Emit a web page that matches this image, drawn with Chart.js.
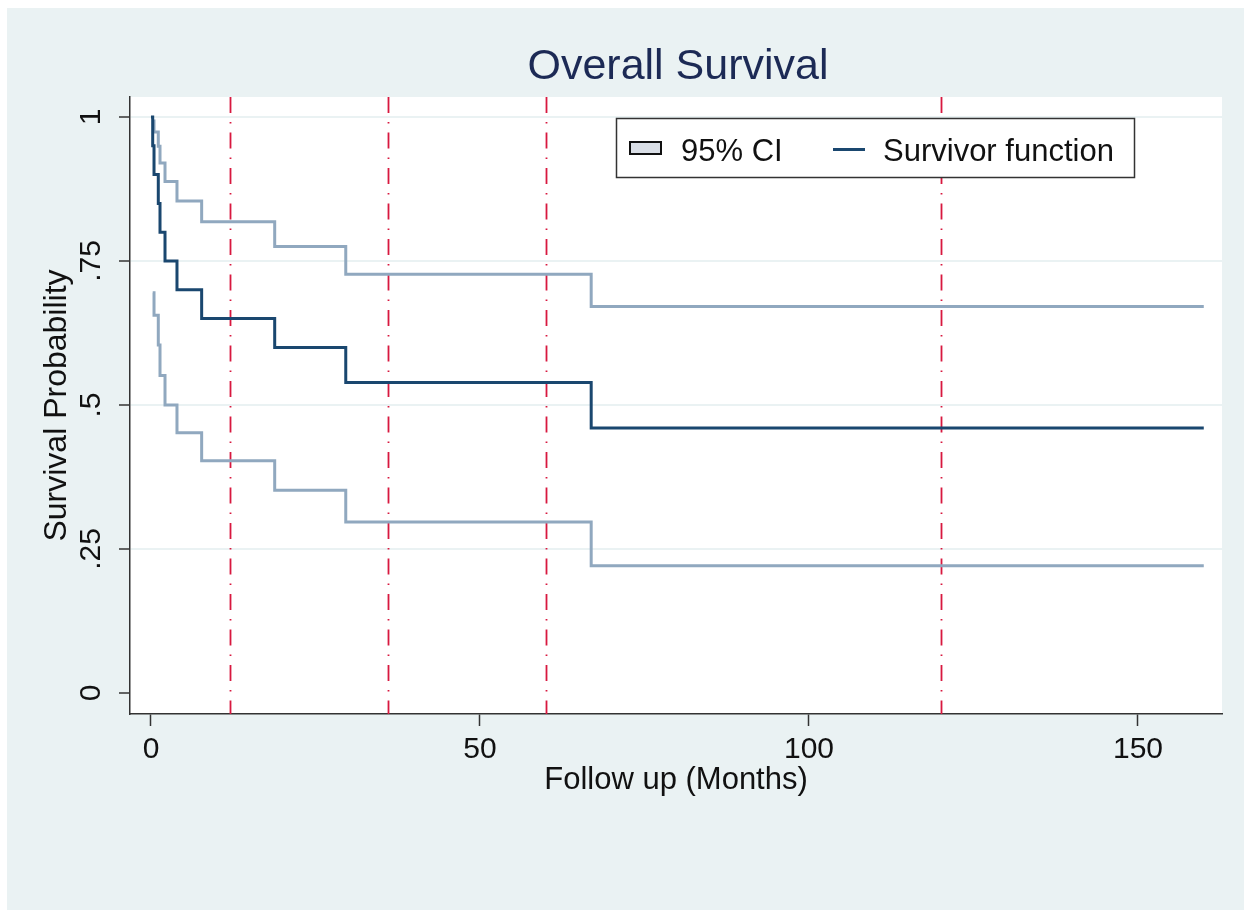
<!DOCTYPE html>
<html><head><meta charset="utf-8">
<script src="https://cdn.jsdelivr.net/npm/chart.js@4.4.1/dist/chart.umd.min.js"></script>
<style>html,body{margin:0;padding:0;background:#fff;} canvas{display:block;}</style>
</head><body>
<canvas id="c" width="1244" height="910"></canvas>
<script>
// ---- data ----
const times      = [0, 0.26, 0.46, 1.11, 1.37, 2.13, 3.95, 7.7, 18.8, 29.6, 66.9, 160];
const survival   = [1, 0.95, 0.90, 0.85, 0.80, 0.75, 0.70, 0.65, 0.60, 0.539, 0.46, 0.46];
const ciTimes    = [0.26, 0.46, 1.11, 1.37, 2.13, 3.95, 7.7, 18.8, 29.6, 66.9, 160];
const upperCI    = [0.993, 0.974, 0.949, 0.920, 0.888, 0.854, 0.818, 0.775, 0.727, 0.671, 0.671];
const lowerCI    = [0.695, 0.656, 0.604, 0.551, 0.500, 0.452, 0.403, 0.352, 0.297, 0.221, 0.221];
const xTicks     = [0, 50, 100, 150];
const xTickLabels= ['0', '50', '100', '150'];
const yTicks     = [0, 0.25, 0.5, 0.75, 1];
const yTickLabels= ['0', '.25', '.5', '.75', '1'];
const refLines   = [12, 36, 60, 120];
const chartTitle = 'Overall Survival';
const xTitle     = 'Follow up (Months)';
const yTitle     = 'Survival Probability';

const FONT = "'Liberation Sans', Arial, sans-serif";
const NAVY = '#1a476f';
const CI_COLOR = '#90a8bf';
const AXIS = '#333333';

const decor = {
  id: 'decor',
  beforeDraw(chart) {
    const ctx = chart.ctx, a = chart.chartArea;
    ctx.save();
    ctx.fillStyle = '#ffffff';
    ctx.fillRect(0, 0, chart.width, chart.height);
    ctx.fillStyle = '#eaf2f3';
    ctx.fillRect(7, 8, chart.width - 7, chart.height - 8);
    ctx.fillStyle = '#ffffff';
    ctx.fillRect(a.left, a.top, a.right - a.left, a.bottom - a.top);
    ctx.restore();
  },
  beforeDatasetsDraw(chart) {
    const ctx = chart.ctx, a = chart.chartArea, xs = chart.scales.x;
    ctx.save();
    ctx.strokeStyle = '#d8183f';
    ctx.lineWidth = 1.8;
    ctx.setLineDash([16, 9, 1.5, 9]);
    refLines.forEach(v => {
      const px = Math.round(xs.getPixelForValue(v)) + 0.5;
      ctx.beginPath();
      ctx.moveTo(px, a.top);
      ctx.lineTo(px, a.bottom);
      ctx.stroke();
    });
    ctx.restore();
  },
  afterDraw(chart) {
    const ctx = chart.ctx, a = chart.chartArea;
    ctx.save();
    // title
    ctx.fillStyle = '#1c2a55';
    ctx.font = '43px ' + FONT;
    ctx.textAlign = 'center';
    ctx.textBaseline = 'alphabetic';
    ctx.fillText(chartTitle, (a.left + a.right) / 2 + 2, 79);
    // legend
    const bx = 616, by = 118, bw = 518, bh = 59;
    ctx.fillStyle = '#ffffff';
    ctx.fillRect(bx, by, bw, bh);
    ctx.strokeStyle = AXIS;
    ctx.lineWidth = 1.5;
    ctx.strokeRect(bx + 0.5, by + 0.5, bw, bh);
    // CI symbol
    ctx.fillStyle = '#d9dee6';
    ctx.fillRect(630, 142, 31, 12);
    ctx.strokeStyle = '#111';
    ctx.lineWidth = 2;
    ctx.strokeRect(630, 142, 31, 12);
    // line symbol
    ctx.strokeStyle = NAVY;
    ctx.lineWidth = 3;
    ctx.beginPath();
    ctx.moveTo(833, 149.5);
    ctx.lineTo(865, 149.5);
    ctx.stroke();
    ctx.fillStyle = '#111';
    ctx.font = '31px ' + FONT;
    ctx.textAlign = 'left';
    ctx.fillText(chart.data.datasets[1].label, 681, 161);
    ctx.fillText(chart.data.datasets[0].label, 883, 161);
    ctx.restore();
  }
};

new Chart(document.getElementById('c'), {
  type: 'line',
  data: {
    datasets: [
      { label: 'Survivor function', data: times.map((t, i) => ({x: t, y: survival[i]})),
        borderColor: NAVY, borderWidth: 3, stepped: true, pointRadius: 0, fill: false },
      { label: '95% CI', data: ciTimes.map((t, i) => ({x: t, y: upperCI[i]})),
        borderColor: CI_COLOR, borderWidth: 3, stepped: true, pointRadius: 0, fill: false },
      { label: '95% CI (lower)', data: ciTimes.map((t, i) => ({x: t, y: lowerCI[i]})),
        borderColor: CI_COLOR, borderWidth: 3, stepped: true, pointRadius: 0, fill: false }
    ]
  },
  options: {
    responsive: false,
    devicePixelRatio: 1,
    animation: false,
    layout: { padding: { top: 97, right: 22, left: 0, bottom: 0 } },
    plugins: { legend: { display: false }, tooltip: { enabled: false }, title: { display: false } },
    scales: {
      x: {
        type: 'linear', min: -3.19, max: 162.77,
        afterBuildTicks: s => { s.ticks = xTicks.map(v => ({ value: v })); },
        afterFit: s => { s.height = 196; },
        grid: { drawOnChartArea: false, drawTicks: true, tickLength: 12, tickColor: AXIS, tickWidth: 1.5 },
        border: { display: true, color: AXIS, width: 1.5 },
        ticks: { font: { family: FONT, size: 30 }, color: '#111', padding: 6, maxRotation: 0, autoSkip: false,
                 callback: (v, i) => xTickLabels[i] },
        title: { display: true, text: xTitle, font: { family: FONT, size: 31 }, color: '#111',
                 padding: { top: 0, bottom: 111 } }
      },
      y: {
        type: 'linear', min: -0.0365, max: 1.0347,
        afterBuildTicks: s => { s.ticks = yTicks.map(v => ({ value: v })); },
        afterFit: s => { s.width = 130; },
        grid: { color: c => (c.tick && c.tick.value === 0) ? 'rgba(0,0,0,0)' : '#eaf2f3',
                lineWidth: 2, drawTicks: true, tickLength: 11, tickColor: AXIS, tickWidth: 1.5 },
        border: { display: true, color: AXIS, width: 1.5 },
        ticks: { font: { family: FONT, size: 30 }, color: '#111', padding: 6, minRotation: 90, maxRotation: 90,
                 crossAlign: 'center', autoSkip: false, callback: (v, i) => yTickLabels[i] },
        title: { display: true, text: yTitle, font: { family: FONT, size: 32 }, color: '#111',
                 padding: { top: 38, bottom: 0 } }
      }
    }
  },
  plugins: [decor]
});
</script>
</body></html>
